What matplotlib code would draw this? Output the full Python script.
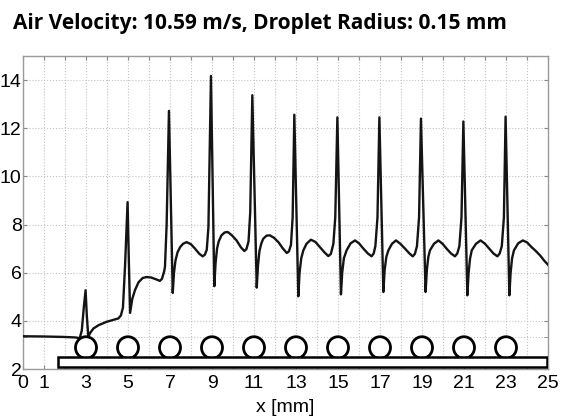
import matplotlib
matplotlib.use("Agg")
import matplotlib.pyplot as plt
from matplotlib.patches import Ellipse, Rectangle

plt.rcParams["font.family"] = ["Liberation Sans", "DejaVu Sans"]

# ---- data ----
x_mm = [0.0, 1.0, 2.0, 2.5, 2.7, 2.8, 2.9, 2.98, 3.04, 3.11, 3.2, 3.35, 3.6, 3.98, 4.3, 4.54, 4.66,
        4.76, 4.86, 4.98, 5.04, 5.1, 5.2, 5.33, 5.5, 5.7, 5.89, 6.1, 6.35, 6.52, 6.62, 6.72, 6.76,
        6.84, 6.95, 7.13, 7.19, 7.26, 7.36, 7.48, 7.62, 7.79, 8.0, 8.19, 8.4, 8.56, 8.66, 8.75, 8.83,
        8.95, 9.11, 9.17, 9.24, 9.32, 9.45, 9.6, 9.75, 9.95, 10.17, 10.38, 10.54, 10.64, 10.74, 10.82,
        10.92, 11.13, 11.19, 11.26, 11.35, 11.44, 11.6, 11.76, 11.95, 12.16, 12.38, 12.56, 12.66, 12.76, 12.84,
        12.92, 13.11, 13.17, 13.25, 13.35, 13.5, 13.71, 13.92, 14.14, 14.35, 14.54, 14.66, 14.78, 14.87,
        14.97, 15.14, 15.2, 15.28, 15.41, 15.6, 15.81, 16.0, 16.21, 16.42, 16.6, 16.7, 16.78, 16.88,
        16.97, 17.16, 17.22, 17.3, 17.4, 17.57, 17.76, 17.97, 18.19, 18.4, 18.56, 18.66, 18.76, 18.86,
        18.95, 19.17, 19.23, 19.3, 19.38, 19.57, 19.78, 19.98, 20.17, 20.38, 20.57, 20.68, 20.78, 20.88,
        20.97, 21.16, 21.22, 21.29, 21.37, 21.57, 21.79, 22.0, 22.2, 22.4, 22.59, 22.7, 22.8, 22.9,
        22.98, 23.16, 23.22, 23.29, 23.38, 23.58, 23.8, 24.0, 24.22, 24.42, 24.62, 24.82, 25.0]
signal = [3.36, 3.35, 3.33, 3.31, 3.28, 3.6, 4.6, 5.27, 4.2, 3.34, 3.5, 3.68, 3.82, 3.96, 4.04, 4.1, 4.22,
          4.55, 6.3, 8.93, 6.5, 4.33, 4.9, 5.27, 5.6, 5.78, 5.82, 5.8, 5.72, 5.66, 5.75, 6.05, 6.24,
          8.0, 12.72, 5.16, 6.0, 6.5, 6.85, 7.06, 7.2, 7.27, 7.18, 7.0, 6.78, 6.68, 6.75, 6.95, 7.9,
          14.17, 5.44, 6.4, 7.0, 7.3, 7.55, 7.67, 7.69, 7.55, 7.34, 7.05, 6.9, 6.98, 7.3, 8.5,
          13.37, 5.38, 6.3, 6.9, 7.22, 7.41, 7.54, 7.55, 7.45, 7.27, 7.0, 6.82, 6.88, 7.15, 8.3,
          12.56, 5.02, 6.0, 6.6, 6.93, 7.2, 7.37, 7.28, 7.06, 6.85, 6.69, 6.78, 7.2, 8.3,
          12.45, 5.1, 6.0, 6.6, 6.93, 7.22, 7.34, 7.22, 7.0, 6.8, 6.68, 6.8, 7.1, 8.3,
          12.45, 5.2, 6.1, 6.65, 6.93, 7.2, 7.34, 7.2, 7.0, 6.8, 6.68, 6.78, 7.1, 8.3,
          12.4, 5.2, 6.1, 6.65, 6.93, 7.2, 7.34, 7.2, 7.0, 6.8, 6.68, 6.8, 7.1, 8.3,
          12.28, 5.06, 6.0, 6.6, 6.93, 7.2, 7.34, 7.2, 7.0, 6.8, 6.68, 6.8, 7.1, 8.3,
          12.48, 5.06, 6.0, 6.6, 6.93, 7.22, 7.34, 7.26, 7.06, 6.9, 6.72, 6.5, 6.33]

droplet_x = [3, 5, 7, 9, 11, 13, 15, 17, 19, 21, 23]
y_tick_values = [2, 4, 6, 8, 10, 12, 14]
title_text = "Air Velocity: 10.59 m/s, Droplet Radius: 0.15 mm"

# ---- figure ----
fig = plt.figure(figsize=(5.67, 4.19), dpi=100)
ax = fig.add_axes([23 / 567, 50 / 419, 525 / 567, 313 / 419])

ax.plot(x_mm, signal, color="#141414", lw=1.7, zorder=3)

for cx in droplet_x:
    ax.add_patch(Ellipse((cx, 2.89), 1.0, 0.9, facecolor="white", edgecolor="black",
                         lw=2.0, zorder=4))
ax.add_patch(Rectangle((1.67, 2.07), 24.95 - 1.67, 0.44, facecolor="white",
                       edgecolor="black", lw=1.8, zorder=5))

ax.set_xlim(0, 25)
ax.set_ylim(2, 15)

ax.set_xticks(range(0, 26))
lab = []
for i in range(26):
    lab.append(str(i) if (i == 0 or i % 2 == 1) else "")
ax.set_xticklabels(lab, fontsize=14)
ax.set_yticks(y_tick_values)
ax.set_yticklabels([str(v) for v in y_tick_values], fontsize=14)
ax.set_yticks([3.33], minor=True)

ax.tick_params(which="both", direction="in", length=3, color="#888888",
               top=True, right=True)
ax.tick_params(axis="x", pad=4)
ax.tick_params(axis="y", pad=1)
ax.grid(True, which="both", linestyle=":", color="#c4c4c4", lw=0.8)
ax.set_axisbelow(True)
for s in ax.spines.values():
    s.set_color("#9a9a9a")
    s.set_linewidth(1.0)

ax.set_xlabel("x [mm]", fontsize=14, labelpad=5)

fig.text(260 / 567, 1 - 24 / 419, title_text, ha="center", va="center",
         fontfamily="Open Sans", fontweight="bold", fontsize=15)

fig.savefig("out.png", dpi=100)
